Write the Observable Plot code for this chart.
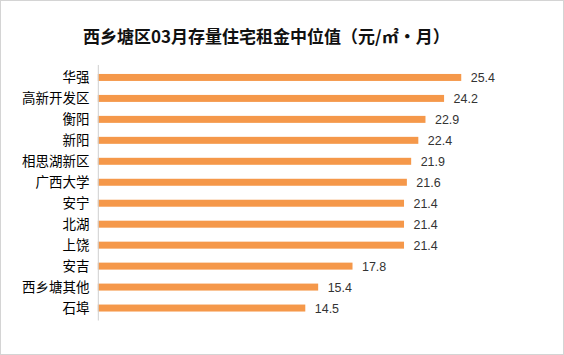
<!DOCTYPE html>
<html><head><meta charset="utf-8">
<script src="https://cdn.jsdelivr.net/npm/d3@7"></script>
<script src="https://cdn.jsdelivr.net/npm/@observablehq/plot@0.6"></script>
<style>
html,body{margin:0;padding:0;background:#fff;}
#wrap{position:relative;width:562px;height:353px;border:1px solid #d4d4d4;overflow:hidden;background:#fff;}
#title{position:absolute;left:82px;top:22px;font-family:"Noto Sans CJK SC",sans-serif;font-weight:bold;font-size:17px;color:#111;white-space:nowrap;letter-spacing:0px;}
#chart{position:absolute;left:-1px;top:49px;}
</style></head>
<body><div id="wrap"><div id="title">西乡塘区03月存量住宅租金中位值（元/㎡·月）</div><div id="chart"></div></div>
<script>
const regions = ["华强","高新开发区","衡阳","新阳","相思湖新区","广西大学","安宁","北湖","上饶","安吉","西乡塘其他","石埠"];
const values = [25.4,24.2,22.9,22.4,21.9,21.6,21.4,21.4,21.4,17.8,15.4,14.5];
const data = regions.map((r,i)=>({region:r,value:values[i]}));
const chart = Plot.plot({
  width:564, height:306,
  marginLeft:98, marginRight:36, marginTop:15, marginBottom:35,
  x:{domain:[0,30], axis:null},
  y:{domain:regions, paddingInner:0.67, paddingOuter:0.35, label:null},
  style:{fontFamily:"'Noto Sans CJK SC',sans-serif", fontSize:"13px", color:"#000", background:"transparent"},
  marks:[
    Plot.barX(data,{y:"region", x:"value", fill:"#F5984A"}),
    Plot.ruleX([0],{stroke:"#d0d0d0"}),
    Plot.text(data,{y:"region", x:"value", text:d=>d.value.toFixed(1), textAnchor:"start", dx:9, fill:"#333", fontSize:12.5, fontFamily:"Liberation Sans, Arial, sans-serif"}),
    Plot.axisY({tickSize:0, tickPadding:9, fontSize:13.5, fill:"#000"})
  ]
});
document.getElementById("chart").appendChild(chart);
</script></body></html>
